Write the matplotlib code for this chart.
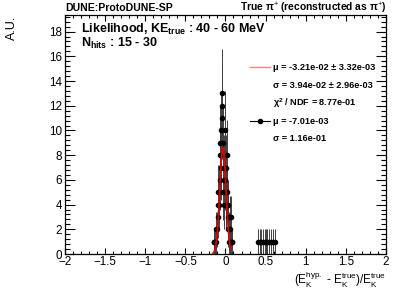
import numpy as np
import matplotlib
matplotlib.use("Agg")
import matplotlib.pyplot as plt
from matplotlib.ticker import MultipleLocator

plt.rcParams['font.family'] = ['Liberation Sans', 'DejaVu Sans']
plt.rcParams['mathtext.fontset'] = 'custom'
plt.rcParams['mathtext.rm'] = 'Liberation Sans'
plt.rcParams['mathtext.it'] = 'Liberation Sans:italic'
plt.rcParams['mathtext.bf'] = 'Liberation Sans:bold'

# histogram, bin width 0.005, only non-empty bins
bin_width = 0.005
centers = [-0.1475, -0.1425, -0.1325, -0.1175, -0.1125, -0.1025, -0.0975, -0.0925,
           -0.0875, -0.0825, -0.0775, -0.0725, -0.0675, -0.0625, -0.0575, -0.0525,
           -0.0475, -0.0425, -0.0375, -0.0325, -0.0275, -0.0225, -0.0175, -0.0125,
           -0.0075, -0.0025, 0.0025, 0.0075, 0.0125, 0.0175, 0.0225, 0.0275,
           0.0325, 0.0375, 0.0425, 0.0475, 0.0525, 0.0575, 0.0625, 0.0675,
           0.0725, 0.0775, 0.0875,
           0.4025, 0.4275, 0.4475, 0.4675, 0.4875, 0.5025, 0.5225, 0.5475,
           0.5675, 0.5925, 0.6125]
counts = [1, 1, 1, 2, 1, 2, 4, 5,
          3, 4, 5, 9, 6, 8, 7, 10,
          13, 12, 11, 5, 9, 4, 6, 7,
          10, 6, 5, 4, 7, 8, 5, 4,
          3, 2, 2, 1, 1, 2, 3, 3,
          1, 1, 1,
          1, 1, 1, 1, 1, 1, 1, 1,
          1, 1, 1]

# gaussian fit
fit_mu = -3.21e-02
fit_sigma = 3.94e-02
fit_amp = 8.6
fit_range = (-0.16, 0.065)

legend_rows = ["\u03bc = -3.21e-02 \u00b1 3.32e-03",
               "\u03c3 = 3.94e-02 \u00b1 2.96e-03",
               r"$\mathbf{\chi^{2}}$ / NDF = 8.77e-01",
               "\u03bc = -7.01e-03",
               "\u03c3 = 1.16e-01"]

x = np.array(centers)
y = np.array(counts, dtype=float)
err = np.sqrt(y)

fig = plt.figure(figsize=(4.07, 2.92), dpi=100)
ax = fig.add_axes([0.160, 0.130, 0.788, 0.819])

ax.errorbar(x, y, yerr=err, xerr=bin_width / 2, fmt='o', color='black',
            ecolor='0.25', elinewidth=0.7, markersize=3.0, capsize=0, zorder=2)

xf = np.linspace(fit_range[0], fit_range[1], 200)
ax.plot(xf, fit_amp * np.exp(-0.5 * ((xf - fit_mu) / fit_sigma) ** 2),
        color='#dd0000', lw=1.2, zorder=3)

ax.set_xlim(-2, 2)
ax.set_ylim(0, 19.35)
ax.xaxis.set_major_locator(MultipleLocator(0.5))
ax.xaxis.set_minor_locator(MultipleLocator(0.1))
ax.yaxis.set_major_locator(MultipleLocator(2))
ax.yaxis.set_minor_locator(MultipleLocator(0.4))
ax.tick_params(which='both', direction='in', top=True, right=True, labelsize=8.4,
               width=0.8, colors='black')
ax.tick_params(axis='x', which='major', length=4.5, pad=1.5)
ax.tick_params(axis='x', which='minor', length=2.3)
ax.tick_params(axis='y', which='major', length=7, pad=2)
ax.tick_params(axis='y', which='minor', length=3.5)
ax.xaxis.set_major_formatter(matplotlib.ticker.FuncFormatter(
    lambda v, p: ('%g' % v).replace('-', '\u2212')))
for s in ax.spines.values():
    s.set_linewidth(0.9)

# legend drawn by hand (ROOT style)
rows_y = [0.782, 0.703, 0.632, 0.556, 0.485]
ax.plot([0.576, 0.638], [rows_y[0]] * 2, transform=ax.transAxes,
        color='#ff8080', lw=1.0, clip_on=False)
ax.plot([0.576, 0.638], [rows_y[3]] * 2, transform=ax.transAxes,
        color='black', lw=0.8, clip_on=False)
ax.plot([0.607], [rows_y[3]], 'o', transform=ax.transAxes,
        color='black', markersize=3.0, clip_on=False)
for ry, txt in zip(rows_y, legend_rows):
    ax.text(0.648, ry, txt, transform=ax.transAxes, fontsize=6.6,
            fontweight='bold', va='center', ha='left')

fig.text(0.160, 0.962, "DUNE:ProtoDUNE-SP", fontsize=7.6, fontweight='bold',
         ha='left', va='baseline')
fig.text(0.950, 0.962, "True \u03c0$^{+}$ (reconstructed as \u03c0$^{+}$)",
         fontsize=7.4, fontweight='bold', ha='right', va='baseline')
fig.text(0.200, 0.886, r"Likelihood, KE$_{\mathbf{true}}$ : 40 - 60 MeV",
         fontsize=9, fontweight='bold', ha='left', va='baseline')
fig.text(0.200, 0.840, r"N$_{\mathbf{hits}}$ : 15 - 30",
         fontsize=9, fontweight='bold', ha='left', va='baseline')

fig.text(0.030, 0.945, "A.U.", fontsize=9, rotation=90, ha='center', va='top')
fig.text(0.948, 0.008,
         r"(E$_{\rm K}^{\rm hyp.}$ - E$_{\rm K}^{\rm true}$)/E$_{\rm K}^{\rm true}$",
         fontsize=8.4, ha='right', va='bottom')

fig.savefig("out.png", dpi=100)
